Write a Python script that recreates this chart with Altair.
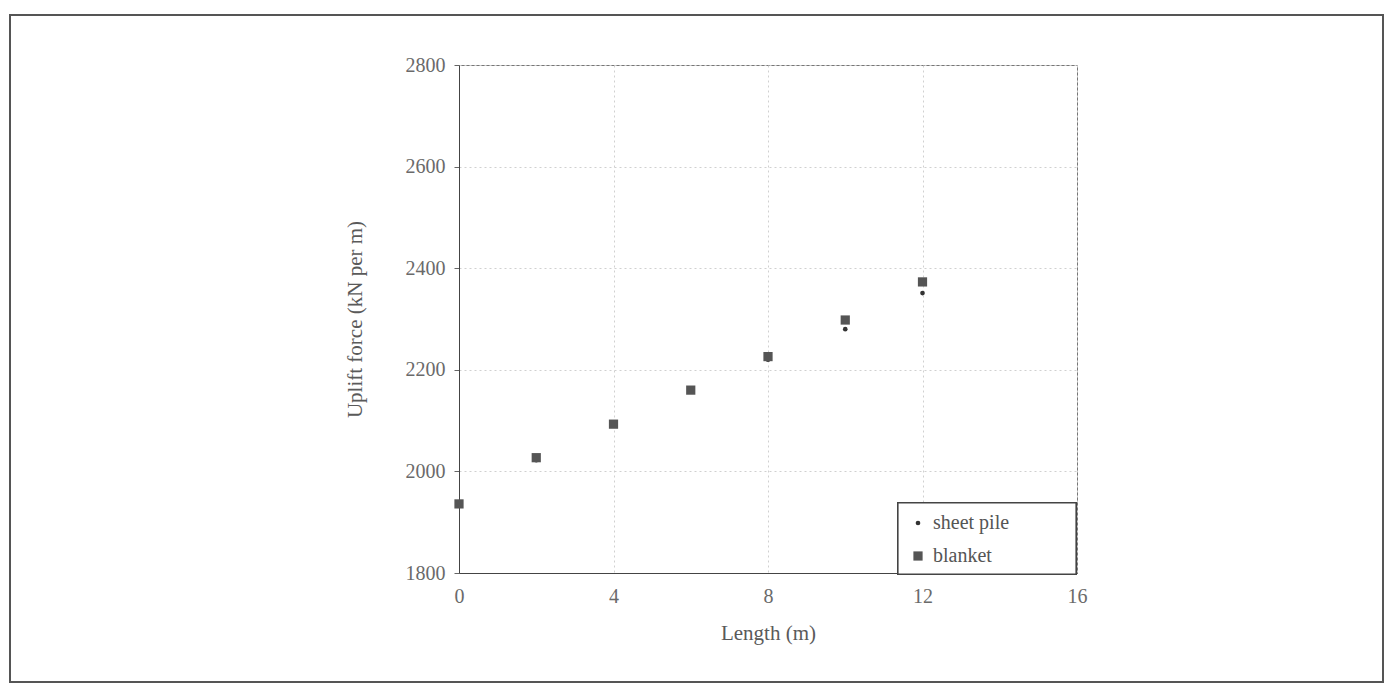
import altair as alt
import pandas as pd

lengths = [0, 2, 4, 6, 8, 10, 12]
sheet_pile = [1935, 2022, 2091, 2158, 2220, 2280, 2351]
blanket = [1936, 2027, 2093, 2160, 2226, 2298, 2373]
series_names = ["sheet pile", "blanket"]

rows = []
for name, vals in zip(series_names, [sheet_pile, blanket]):
    for x, y in zip(lengths, vals):
        rows.append({"Length": x, "Uplift": y, "Series": name})
df = pd.DataFrame(rows)

FONT = "Liberation Serif"
W, H = 618, 508

leg = alt.Legend(title=None, orient="none", legendX=437, legendY=436)

points = alt.Chart(df).mark_point(filled=True, opacity=1).encode(
    x=alt.X("Length:Q", scale=alt.Scale(domain=[0, 16], nice=False),
            axis=alt.Axis(values=[0, 4, 8, 12, 16], title="Length (m)", format="d")),
    y=alt.Y("Uplift:Q", scale=alt.Scale(domain=[1800, 2800], nice=False, zero=False),
            axis=alt.Axis(values=[1800, 2000, 2200, 2400, 2600, 2800], format="d",
                          title="Uplift force (kN per m)")),
    shape=alt.Shape("Series:N", scale=alt.Scale(domain=series_names, range=["circle", "square"]),
                    legend=leg),
    color=alt.Color("Series:N", scale=alt.Scale(domain=series_names, range=["#333333", "#555555"]),
                    legend=leg),
    size=alt.Size("Series:N", scale=alt.Scale(domain=series_names, range=[22, 85]), legend=leg),
    order=alt.Order("Series:N", sort="descending"),
)

# decorative figure frame and legend box
frame = alt.Chart(df).mark_rect(fill=None, stroke="#555", strokeWidth=1.5).encode(
    x=alt.value(-449), x2=alt.value(924), y=alt.value(-50), y2=alt.value(617)
)
legend_box = alt.Chart(df).mark_rect(fill="white", stroke="#444", strokeWidth=1.2).encode(
    x=alt.value(439), x2=alt.value(617), y=alt.value(438), y2=alt.value(509)
)

chart = alt.layer(frame, legend_box, points).properties(
    width=W, height=H,
    autosize=alt.AutoSizeParams(type="none"),
    padding={"left": 451, "top": 57, "right": 307, "bottom": 110},
).configure_view(
    stroke="#777", strokeWidth=1
).configure_axis(
    labelFont=FONT, titleFont=FONT, labelFontSize=20, titleFontSize=21,
    labelColor="#6a6a6a", titleColor="#5a5a5a", titleFontWeight="normal",
    domainColor="#444", tickColor="#666", tickSize=5, labelFlush=False,
    gridColor="#d0d0d0", gridDash=[2, 3], gridWidth=1,
).configure_axisX(
    labelPadding=13, titlePadding=16, ticks=False
).configure_axisY(
    labelPadding=9, titlePadding=40
).configure_legend(
    padding=12, labelFont=FONT, labelFontSize=20, labelColor="#555",
    rowPadding=13, symbolStrokeWidth=0, labelOffset=5
)

chart.save("out.html", embed_options={"renderer": "svg", "actions": False})
